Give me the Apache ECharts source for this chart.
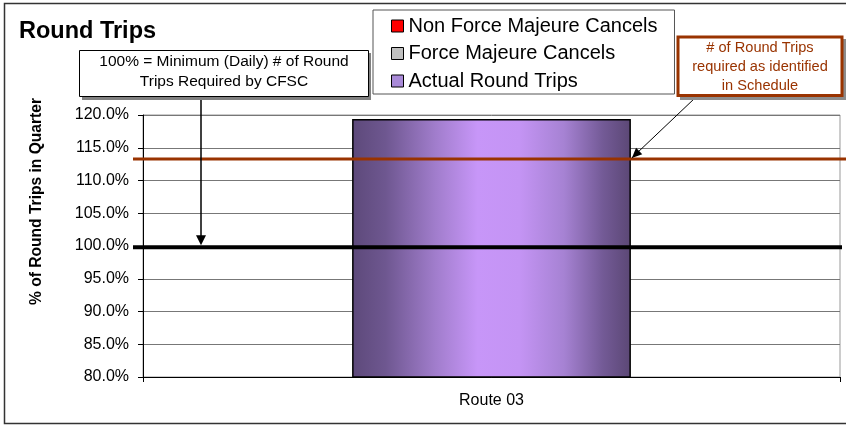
<!DOCTYPE html>
<html><head><meta charset="utf-8">
<script src="https://cdn.jsdelivr.net/npm/echarts@6/dist/echarts.min.js"></script>
<style>html,body{margin:0;padding:0;background:#fff}#c{width:846px;height:426px}</style>
</head><body><div id="c"></div>
<script>
// ---- data ----
const categories = ['Route 03'];
const nonForceMajeureCancels = [null];
const forceMajeureCancels = [null];
const actualRoundTrips = [119.4];
const scheduleRequiredPct = 113.3;   // # of round trips required as identified in Schedule
const dailyMinimumPct = 99.8;        // 100% = minimum (daily) # of round trips
const yMin = 80, yMax = 120, yInterval = 5;
const seriesNames = ['Non Force Majeure Cancels', 'Force Majeure Cancels', 'Actual Round Trips'];
const titleText = 'Round Trips';
const yAxisTitle = '% of Round Trips in Quarter';
const note1 = ['100% = Minimum (Daily) # of Round', 'Trips Required by CFSC'];
const note2 = ['# of Round Trips', 'required as identified', 'in Schedule'];

const FONT = 'Arial, "Liberation Sans", sans-serif';
const BROWN = '#993300';
const chart = echarts.init(document.getElementById('c'), null, {renderer: 'canvas'});

const barGrad = new echarts.graphic.LinearGradient(0, 0, 1, 0, [
  {offset: 0, color: '#5d497a'},
  {offset: 0.12, color: '#6e5790'},
  {offset: 0.3, color: '#a17dcc'},
  {offset: 0.45, color: '#c796f8'},
  {offset: 0.6, color: '#c494f4'},
  {offset: 0.76, color: '#a682d3'},
  {offset: 0.9, color: '#735a96'},
  {offset: 1, color: '#5b4775'}
]);

const option = {
  animation: false,
  title: {
    text: titleText, left: 19, top: 20, padding: 0,
    textStyle: {fontFamily: FONT, fontSize: 23.5, fontWeight: 'bold', color: '#000'}
  },
  grid: {left: 143, right: 6, top: 115, bottom: 49, show: true, borderColor: '#999', borderWidth: 1},
  legend: {
    orient: 'vertical', left: 373, top: 10, padding: [6, 17, 3, 18],
    itemGap: 7.5, itemWidth: 12, itemHeight: 12, icon: 'rect',
    backgroundColor: '#fff', borderColor: '#555', borderWidth: 1,
    textStyle: {fontFamily: FONT, fontSize: 20, color: '#000'},
    data: [
      {name: seriesNames[0], itemStyle: {color: '#ff0000', borderColor: '#000', borderWidth: 1}},
      {name: seriesNames[1], itemStyle: {color: '#c0c0c0', borderColor: '#000', borderWidth: 1}},
      {name: seriesNames[2], itemStyle: {color: '#a98ad8', borderColor: '#000', borderWidth: 1}}
    ]
  },
  xAxis: {
    type: 'category', data: categories,
    axisLine: {lineStyle: {color: '#000', width: 1}},
    axisTick: {show: true, length: 5, lineStyle: {color: '#000'}},
    axisLabel: {margin: 16, fontFamily: FONT, fontSize: 16, color: '#000'}
  },
  yAxis: {
    type: 'value', min: yMin, max: yMax, interval: yInterval,
    axisLine: {show: true, lineStyle: {color: '#000', width: 1}},
    axisTick: {show: true, length: 5, lineStyle: {color: '#000'}},
    axisLabel: {formatter: v => v.toFixed(1) + '%', margin: 14, fontFamily: FONT, fontSize: 16, color: '#000'},
    splitLine: {show: true, lineStyle: {color: '#777', width: 1}}
  },
  series: [
    {name: seriesNames[0], type: 'bar', stack: 'a', barWidth: '40%', data: nonForceMajeureCancels,
     itemStyle: {color: '#ff0000', borderColor: '#000', borderWidth: 1.5}},
    {name: seriesNames[1], type: 'bar', stack: 'a', barWidth: '40%', data: forceMajeureCancels,
     itemStyle: {color: '#c0c0c0', borderColor: '#000', borderWidth: 1.5}},
    {name: seriesNames[2], type: 'bar', stack: 'a', barWidth: '40%', data: actualRoundTrips,
     itemStyle: {color: barGrad, borderColor: '#000', borderWidth: 1.5}}
  ]
};
chart.setOption(option);

// ---- reference lines & annotations positioned through the axes ----
const yPix = v => chart.convertToPixel({yAxisIndex: 0}, v);
const xPix = c => chart.convertToPixel({xAxisIndex: 0}, c);
const yOr = yPix(scheduleRequiredPct);
const yBl = yPix(dailyMinimumPct);
const gridRect = chart.getModel().getComponent('grid', 0).coordinateSystem.getRect();
const barRight = xPix(categories[0]) + 0.2 * gridRect.width;

function arrowHead(x1, y1, x2, y2, len, half) {
  const dx = x2 - x1, dy = y2 - y1, L = Math.hypot(dx, dy);
  const ux = dx / L, uy = dy / L;
  const bx = x2 - ux * len, by = y2 - uy * len;
  return [[x2, y2], [bx - uy * half, by + ux * half], [bx + uy * half, by - ux * half]];
}

const a1 = {x1: 201, y1: 97, x2: 201, y2: yBl - 2};
const a2 = {x1: 695, y1: 98, x2: barRight + 1, y2: yOr - 1};

chart.setOption({
  graphic: [
    {type: 'rect', z: 0, silent: true, shape: {x: 4.5, y: 3.5, width: 860, height: 420}, style: {fill: null, stroke: '#333', lineWidth: 1.5}},
    // y axis title
    {type: 'text', z: 50, x: 36.5, y: 201.5, rotation: Math.PI / 2,
     style: {text: yAxisTitle, font: 'bold 15.6px ' + FONT, fill: '#000', align: 'center', verticalAlign: 'middle'}},
    // reference lines
    {type: 'line', z: 50, shape: {x1: 133, y1: yOr, x2: 846, y2: yOr}, style: {stroke: BROWN, lineWidth: 3}},
    {type: 'line', z: 50, shape: {x1: 133, y1: yBl, x2: 842, y2: yBl}, style: {stroke: '#000', lineWidth: 4}},
    // arrow 1
    {type: 'line', z: 60, shape: {x1: a1.x1, y1: a1.y1, x2: a1.x2, y2: a1.y2 - 6}, style: {stroke: '#000', lineWidth: 1.5}},
    {type: 'polygon', z: 60, shape: {points: arrowHead(a1.x1, a1.y1, a1.x2, a1.y2, 10, 5)}, style: {fill: '#000'}},
    // arrow 2
    {type: 'line', z: 60, shape: {x1: a2.x1, y1: a2.y1, x2: a2.x2, y2: a2.y2}, style: {stroke: '#000', lineWidth: 1}},
    {type: 'polygon', z: 60, shape: {points: arrowHead(a2.x1, a2.y1, a2.x2, a2.y2, 10, 4.5)}, style: {fill: '#000'}},
    // note box 1
    {type: 'rect', z: 70, shape: {x: 82, y: 53, width: 289, height: 47}, style: {fill: '#808080'}},
    {type: 'rect', z: 71, shape: {x: 79.5, y: 50.5, width: 289, height: 46}, style: {fill: '#fff', stroke: '#000', lineWidth: 1}},
    {type: 'text', z: 72, x: 224, y: 62, style: {text: note1[0], font: '15.5px ' + FONT, fill: '#000', align: 'center', verticalAlign: 'middle'}},
    {type: 'text', z: 72, x: 224, y: 82, style: {text: note1[1], font: '15.5px ' + FONT, fill: '#000', align: 'center', verticalAlign: 'middle'}},
    // note box 2
    {type: 'rect', z: 70, shape: {x: 680, y: 39, width: 166, height: 61}, style: {fill: '#8c8c8c'}},
    {type: 'rect', z: 71, shape: {x: 678, y: 37, width: 164, height: 58.5}, style: {fill: '#fff', stroke: BROWN, lineWidth: 3}},
    {type: 'text', z: 72, x: 760, y: 48, style: {text: note2[0], font: '14.6px ' + FONT, fill: BROWN, align: 'center', verticalAlign: 'middle'}},
    {type: 'text', z: 72, x: 760, y: 67, style: {text: note2[1], font: '14.6px ' + FONT, fill: BROWN, align: 'center', verticalAlign: 'middle'}},
    {type: 'text', z: 72, x: 760, y: 86, style: {text: note2[2], font: '14.6px ' + FONT, fill: BROWN, align: 'center', verticalAlign: 'middle'}}
  ]
});
</script></body></html>
